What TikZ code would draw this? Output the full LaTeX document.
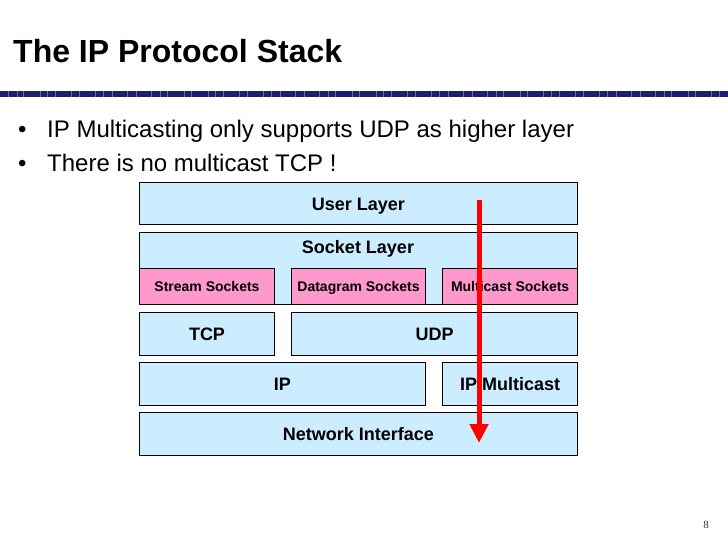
\documentclass[tikz,border=0pt]{standalone}
\usepackage{fontspec}
\setmainfont{Liberation Sans}
\newfontfamily\pnfont{Liberation Serif}
\usetikzlibrary{arrows.meta}
\definecolor{layerblue}{HTML}{CCECFF}
\definecolor{sockpink}{HTML}{FF99CC}
\definecolor{rulenavy}{RGB}{30,30,110}
\definecolor{arrowred}{RGB}{255,0,0}
\tikzset{
  layer/.style={draw=black, line width=1pt, fill=layerblue, inner sep=0pt,
    font=\fontsize{18}{20}\selectfont\bfseries, text height=12.9pt, text depth=0pt},
  sock/.style={draw=black, line width=1pt, fill=sockpink, inner sep=0pt,
    font=\fontsize{14}{16}\selectfont\bfseries, text height=10pt, text depth=0pt},
  bullettext/.style={anchor=base west, inner sep=0pt, font=\fontsize{24}{28}\selectfont},
  bulletdot/.style={anchor=base west, inner sep=0pt, font=\fontsize{24}{28}\selectfont},
  flowarrow/.style={draw=arrowred, line width=5pt, -{Triangle[width=18pt,length=19pt]}}
}
\begin{document}
\begin{tikzpicture}[x=1pt,y=-1pt]
\useasboundingbox[fill=white] (0,0) rectangle (728,546);
% title
\node[anchor=base west, inner sep=0pt, font=\fontsize{32}{36}\selectfont\bfseries] (title) at (13,62) {The IP Protocol Stack};
% rule
\fill[rulenavy] (0,91) rectangle (728,97);
\foreach \xx in {8,17,23,40,47,55,71,79,95,103,112,127,136,151,160,167,184,191,208,215,223,239,247,263,271,280,295,304,319,328,335,352,359,376,383,391,407,415,431,439,448,463,472,487,496,503,520,527,543,551,559,575,583,599,607,616,631,640,655,664,671,688,695,711,719}
  \draw[rulenavy!65!white, line width=0.4pt] (\xx,91) -- (\xx,97);
% bullets
\node[bulletdot] (b1) at (18,137) {•};
\node[bullettext] (t1) at (47,137) {IP Multicasting only supports UDP as higher layer};
\node[bulletdot] (b2) at (18,171) {•};
\node[bullettext] (t2) at (47,171) {There is no multicast TCP !};
% stack
\node[layer, minimum width=438pt, minimum height=42pt, anchor=north west] (user) at (139,182.3) {User Layer};
\node[draw=black, line width=1pt, fill=layerblue, minimum width=438pt, minimum height=72pt, anchor=north west, inner sep=0pt] (socket) at (139,232.3) {};
\node[anchor=base, inner sep=0pt, font=\fontsize{18}{20}\selectfont\bfseries] (socketlbl) at (358,253.3) {Socket Layer};
\node[sock, minimum width=135pt, minimum height=36pt, anchor=north west] (stream) at (139,268.3) {Stream Sockets};
\node[sock, minimum width=133.4pt, minimum height=36pt, anchor=north west] (dgram) at (291.3,268.3) {Datagram Sockets};
\node[sock, minimum width=134.7pt, minimum height=36pt, anchor=north west] (mcsock) at (442.3,268.3) {Multicast Sockets};
\node[layer, minimum width=135pt, minimum height=43pt, anchor=north west] (tcp) at (139,312.3) {TCP};
\node[layer, minimum width=285.7pt, minimum height=43pt, anchor=north west] (udp) at (291.3,312.3) {UDP};
\node[layer, minimum width=285.7pt, minimum height=43pt, anchor=north west] (ip) at (139,362.3) {IP};
\node[layer, minimum width=134.7pt, minimum height=43pt, anchor=north west] (ipmc) at (442.3,362.3) {IP Multicast};
\node[layer, minimum width=438pt, minimum height=43pt, anchor=north west] (netif) at (139,412.3) {Network Interface};
% red arrow
\coordinate (arrS) at (479,200);
\coordinate (arrE) at (479,443);
\draw[flowarrow] (arrS) -- (arrE);
% page number
\node[inner sep=0pt, text=black!80, font=\pnfont\fontsize{11}{12}\selectfont] (pgnum) at (706,525) {8};
\end{tikzpicture}
\end{document}
